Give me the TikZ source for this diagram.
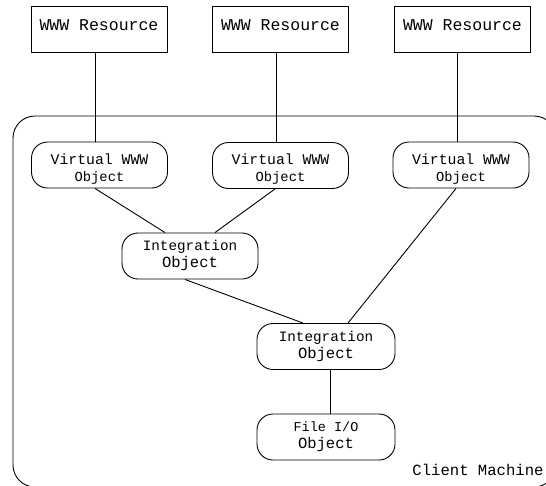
\documentclass[tikz,border=0pt]{standalone}
\usepackage{fontspec}
\setmonofont{Liberation Mono}
\begin{document}
\begin{tikzpicture}[x=1pt,y=-1pt,line width=0.9pt,
  resbox/.style={draw,rectangle,minimum width=136pt,minimum height=46pt,inner sep=0pt},
  objbox/.style={draw,rounded corners=16pt,minimum width=136pt,minimum height=46pt,inner sep=0pt},
  lbl/.style={font=\ttfamily\fontsize{14.5}{17}\selectfont,align=center,inner sep=0pt},
  conn/.style={draw,line width=0.9pt}]
\clip (0,0) rectangle (546,485);
% client machine frame
\draw[rounded corners=22pt] (13,116) rectangle (556,487);
\node[lbl,anchor=base] (cm) at (478,475) {\fontsize{15.6}{18}\selectfont Client Machine};
% WWW resources
\node[resbox,label={[lbl,yshift=4pt]center:{\fontsize{16.5}{18}\selectfont WWW Resource}}] (r1) at (99,29) {};
\node[resbox,label={[lbl,yshift=4pt]center:{\fontsize{16.5}{18}\selectfont WWW Resource}}] (r2) at (280.5,29) {};
\node[resbox,label={[lbl,yshift=4pt]center:{\fontsize{16.5}{18}\selectfont WWW Resource}}] (r3) at (462.5,29) {};
% virtual objects
\node[objbox,label={[lbl,yshift=-4pt]center:{\fontsize{14.8}{17}\selectfont Virtual WWW\\\fontsize{13.8}{17}\selectfont Object}}] (v1) at (99.5,165) {};
\node[objbox,label={[lbl,yshift=-4pt]center:{\fontsize{14.8}{17}\selectfont Virtual WWW\\\fontsize{13.8}{17}\selectfont Object}}] (v2) at (280.5,165.5) {};
\node[objbox,label={[lbl,yshift=-4pt]center:{\fontsize{14.8}{17}\selectfont Virtual WWW\\\fontsize{13.8}{17}\selectfont Object}}] (v3) at (461,165) {};
% integration objects
\node[objbox,label={[lbl,yshift=1pt]center:{\fontsize{14.3}{21}\selectfont Integration\\\fontsize{15.5}{21}\selectfont Object}}] (i1) at (190,256) {};
\node[objbox,minimum width=138pt,label={[lbl]center:{\fontsize{14.3}{21}\selectfont Integration\\\fontsize{15.5}{21}\selectfont Object}}] (i2) at (326,346.5) {};
% file io
\node[objbox,minimum width=138pt,label={[lbl]center:{\fontsize{13.5}{21}\selectfont File I/O\\\fontsize{15.5}{21}\selectfont Object}}] (f) at (326,437) {};
% connectors
\draw[conn] ([xshift=-4pt]r1.south) -- ([xshift=-4.5pt]v1.north);
\draw[conn] ([xshift=-4.5pt]r2.south) -- ([xshift=-4.5pt]v2.north);
\draw[conn] ([xshift=-5.5pt]r3.south) -- ([xshift=-4pt]v3.north);
\draw[conn] ([xshift=-4.5pt]v1.south) -- ([xshift=-25pt]i1.north);
\draw[conn] ([xshift=-5.5pt]v2.south) -- ([xshift=25pt]i1.north);
\draw[conn] ([xshift=-5pt]i1.south) -- ([xshift=-23pt]i2.north);
\draw[conn] ([xshift=-5pt]v3.south) -- ([xshift=22pt]i2.north);
\draw[conn] ([xshift=4pt]i2.south) -- ([xshift=4pt]f.north);
\end{tikzpicture}
\end{document}
